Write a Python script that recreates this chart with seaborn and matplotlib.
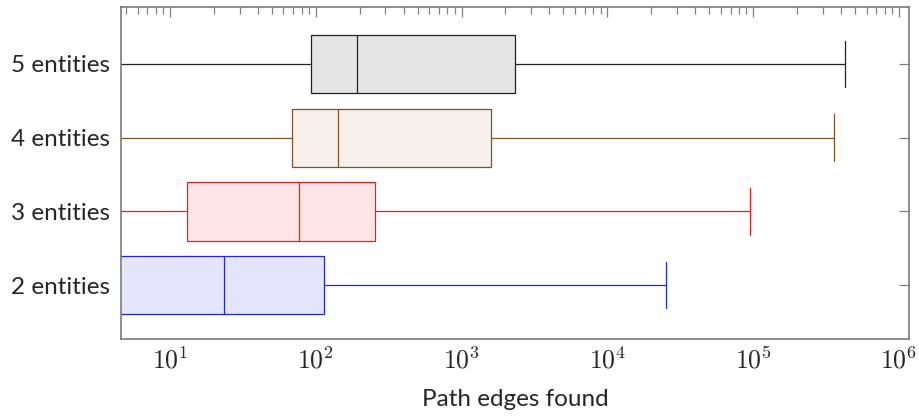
import numpy as np
import pandas as pd
import matplotlib
matplotlib.use("Agg")
import matplotlib.pyplot as plt
import seaborn as sns
from matplotlib.ticker import LogLocator, NullFormatter

# five-number summaries (lower whisker is clipped by the axis)
groups = ["5 entities", "4 entities", "3 entities", "2 entities"]
low_whisker = [1, 1, 1, 1]
q1 = [93, 69, 13.1, 2.5]
median = [193, 142, 77, 23.6]
q3 = [2330, 1590, 254, 113]
high_whisker = [424000, 356000, 95800, 25400]

edge_colors = ["#222222", "#7f5226", "#ee1c1c", "#2323ee"]
fill_colors = ["#e5e5e5", "#f8f1eb", "#ffe5e5", "#e5e5ff"]

rows = []
for i, g in enumerate(groups):
    for v in (low_whisker[i], q1[i], median[i], q3[i], high_whisker[i]):
        rows.append({"group": g, "edges": v})
df = pd.DataFrame(rows)

sns.set_style("white")
plt.rcParams["font.family"] = ["Lato", "DejaVu Sans"]
plt.rcParams["mathtext.fontset"] = "cm"

fig = plt.figure(figsize=(9.19, 4.16), dpi=100)
ax = fig.add_axes([0.1317, 0.185, 0.857, 0.798])

for i, g in enumerate(groups):
    sns.boxplot(data=df[df["group"] == g], x="edges", y="group", order=groups,
                color=fill_colors[i], linecolor=edge_colors[i], saturation=1,
                linewidth=0.9, width=0.79, whis=(0, 100), capwidths=0.63,
                log_scale=True, ax=ax)

ax.set_xscale("log")
ax.set_xlim(4.61, 1.166e6)
ax.set_ylim(3.73, -0.77)
ax.xaxis.set_major_locator(LogLocator(base=10, numticks=10))
ax.xaxis.set_minor_locator(LogLocator(base=10, subs=np.arange(2, 10), numticks=100))
ax.xaxis.set_minor_formatter(NullFormatter())
ax.xaxis.set_major_formatter(matplotlib.ticker.FuncFormatter(
    lambda v, p: r"$10^{%d}$" % round(np.log10(v))))

ax.tick_params(axis="both", which="both", direction="in", top=True, right=True,
               color="#808080", width=0.9)
ax.tick_params(axis="x", which="major", length=7.2, labelsize=18.5, pad=6)
ax.tick_params(axis="x", which="minor", length=4.8)
ax.tick_params(axis="y", which="major", length=7.5, labelsize=17.5, pad=8)

for s in ax.spines.values():
    s.set_color("#707070")
    s.set_linewidth(1.1)

ax.set_xlabel("Path edges found", fontsize=17.5, labelpad=11)
ax.set_ylabel("")

fig.savefig("out.png", dpi=100)
